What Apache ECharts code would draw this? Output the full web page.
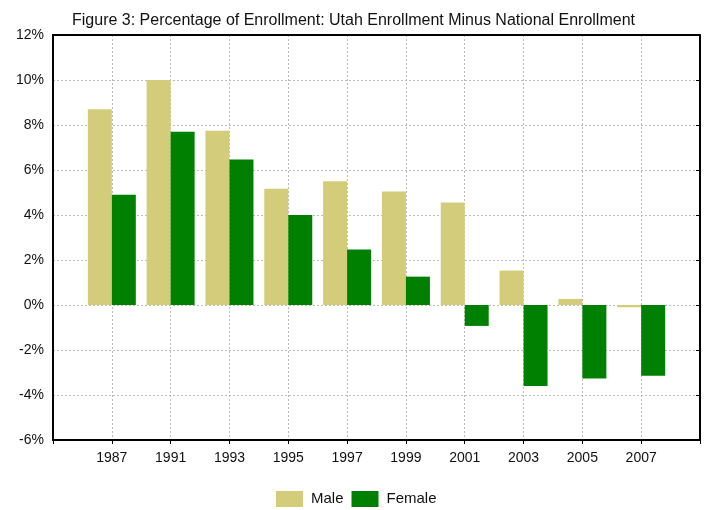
<!DOCTYPE html>
<html>
<head>
<meta charset="utf-8">
<script src="https://cdn.jsdelivr.net/npm/echarts@6/dist/echarts.min.js"></script>
<style>html,body{margin:0;padding:0;background:#fff;}#c{width:707px;height:510px;}</style>
</head>
<body>
<div id="c"></div>
<script>
var years = ['1987','1991','1993','1995','1997','1999','2001','2003','2005','2007'];
var male = [8.7, 10.0, 7.75, 5.17, 5.5, 5.05, 4.56, 1.53, 0.27, -0.1];
var female = [4.9, 7.7, 6.47, 4.0, 2.47, 1.26, -0.93, -3.6, -3.27, -3.14];
var yTicks = [-6, -4, -2, 0, 2, 4, 6, 8, 10, 12];

var cats = [''].concat(years).concat(['']);
var maleData = [null].concat(male).concat([null]);
var femaleData = [null].concat(female).concat([null]);
var font = 'Liberation Sans, Arial, sans-serif';

var chart = echarts.init(document.getElementById('c'));
chart.setOption({
  animation: false,
  backgroundColor: '#fff',
  title: {
    text: 'Figure 3: Percentage of Enrollment: Utah Enrollment Minus National Enrollment',
    left: 'center', top: 8,
    textStyle: {fontFamily: font, fontSize: 16, fontWeight: 'normal', color: '#111'}
  },
  legend: {
    left: 276, top: 491, padding: 0,
    itemWidth: 27, itemHeight: 16, itemGap: 8,
    icon: 'rect',
    textStyle: {fontFamily: font, fontSize: 15, color: '#111', padding: [0, 0, 0, 3]},
    data: ['Male', 'Female']
  },
  grid: {left: 53, right: 7, top: 35, bottom: 70, show: false, containLabel: false},
  xAxis: [{
    type: 'category', data: cats, boundaryGap: false,
    axisLine: {onZero: false, lineStyle: {color: '#000', width: 2}},
    axisTick: {show: true, length: 4, lineStyle: {color: '#000'}},
    axisLabel: {fontFamily: font, fontSize: 14, color: '#111', margin: 11, interval: 0},
    splitLine: {show: true, lineStyle: {color: '#bbb', type: [2, 2], width: 1}}
  }, {
    type: 'category', data: cats, boundaryGap: false, position: 'top',
    axisLine: {show: true, onZero: false, lineStyle: {color: '#000', width: 2}},
    axisTick: {show: false},
    axisLabel: {show: false},
    splitLine: {show: false}
  }],
  yAxis: [{
    type: 'value', min: yTicks[0], max: yTicks[yTicks.length - 1], interval: 2,
    axisLine: {show: true, lineStyle: {color: '#000', width: 2}},
    axisTick: {show: false},
    axisLabel: {fontFamily: font, fontSize: 14, color: '#111', margin: 9, formatter: '{value}%'},
    splitLine: {show: true, lineStyle: {color: '#bbb', type: [2, 2], width: 1}}
  }, {
    type: 'value', position: 'right', min: yTicks[0], max: yTicks[yTicks.length - 1], interval: 2,
    axisLine: {show: true, lineStyle: {color: '#000', width: 2}},
    axisTick: {show: true, inside: true, length: 4, lineStyle: {color: '#000'}},
    axisLabel: {show: false},
    splitLine: {show: false}
  }],
  series: [{
    name: 'Male', type: 'bar', data: maleData, barWidth: 24, barGap: '0%',
    itemStyle: {color: '#D3CC7B'}
  }, {
    name: 'Female', type: 'bar', data: femaleData, barWidth: 24, barGap: '0%',
    itemStyle: {color: '#008000'}
  }]
});
</script>
</body>
</html>
